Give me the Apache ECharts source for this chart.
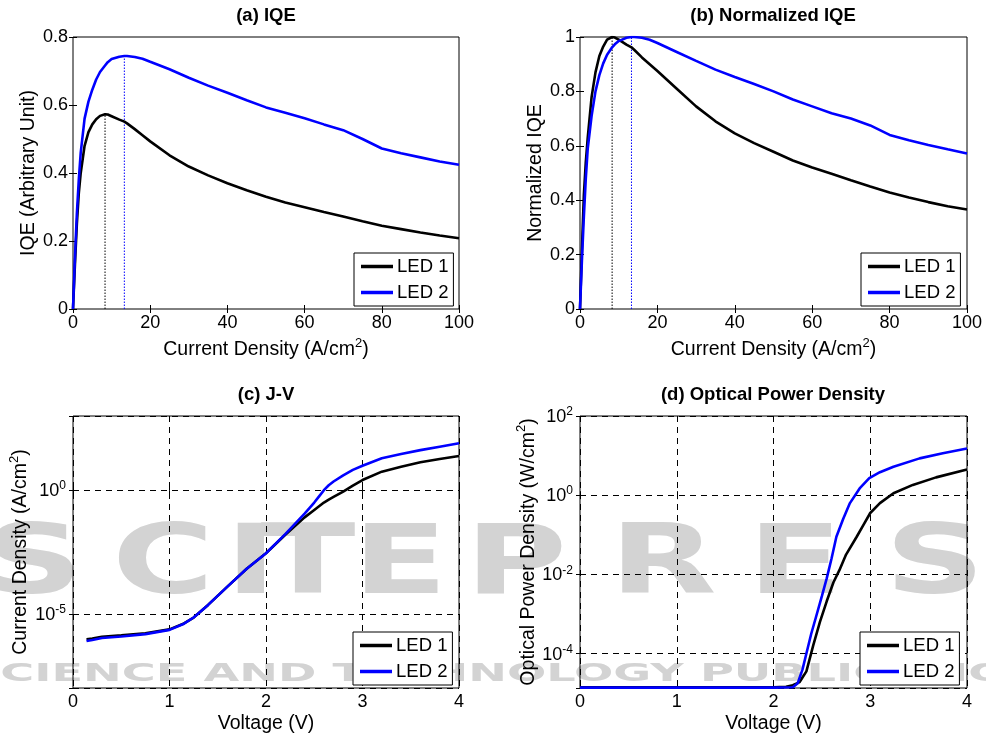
<!DOCTYPE html>
<html>
<head>
<meta charset="utf-8">
<script src="https://cdn.jsdelivr.net/npm/echarts@6/dist/echarts.min.js"></script>
<style>
html, body { margin: 0; padding: 0; background: #fff; }
#chart { width: 986px; height: 740px; }
</style>
</head>
<body>
<div id="chart"></div>
<script>
// (a) IQE vs current density (A/cm^2)
const iqeJ = [0, 0.5, 1, 1.5, 2, 3, 4, 5, 6, 7, 8.3, 9, 10, 12, 13.3, 14, 16, 18, 20, 25, 30, 35, 40, 45, 50, 55, 60, 65, 70, 75, 80, 85, 90, 95, 100];
const iqeLed1 = [0, 0.13, 0.25, 0.34, 0.40, 0.48, 0.52, 0.543, 0.558, 0.568, 0.573, 0.572, 0.567, 0.557, 0.551, 0.546, 0.529, 0.511, 0.493, 0.452, 0.419, 0.393, 0.370, 0.349, 0.330, 0.313, 0.299, 0.285, 0.272, 0.258, 0.245, 0.235, 0.225, 0.216, 0.208];
const iqeLed2 = [0, 0.15, 0.28, 0.38, 0.46, 0.56, 0.61, 0.645, 0.675, 0.697, 0.716, 0.726, 0.735, 0.742, 0.744, 0.744, 0.741, 0.736, 0.727, 0.705, 0.680, 0.657, 0.636, 0.614, 0.593, 0.577, 0.561, 0.543, 0.526, 0.500, 0.472, 0.458, 0.446, 0.434, 0.424];

// (b) normalized IQE
const normLed1 = [0, 0.22, 0.42, 0.54, 0.63, 0.78, 0.87, 0.93, 0.965, 0.99, 1.0, 0.998, 0.99, 0.972, 0.962, 0.953, 0.925, 0.90, 0.875, 0.81, 0.745, 0.69, 0.646, 0.61, 0.578, 0.546, 0.520, 0.497, 0.473, 0.450, 0.428, 0.410, 0.393, 0.378, 0.366];
const normLed2 = [0, 0.18, 0.34, 0.48, 0.59, 0.71, 0.80, 0.86, 0.903, 0.935, 0.962, 0.973, 0.985, 0.997, 1.0, 1.0, 0.997, 0.99, 0.978, 0.945, 0.912, 0.88, 0.853, 0.827, 0.80, 0.77, 0.745, 0.72, 0.70, 0.675, 0.64, 0.62, 0.603, 0.587, 0.572];

// peak markers (dotted lines): current density of the maximum, IQE at the maximum
const peakJ = [8.3, 13.3];
const peakIqe = [0.573, 0.744];
const peakNorm = [1, 1];

// (c) J-V, log10 of current density (A/cm^2)
const jvV = [0.14, 0.2, 0.3, 0.5, 0.75, 1.0, 1.15, 1.25, 1.4, 1.6, 1.8, 2.0, 2.2, 2.4, 2.5, 2.55, 2.6, 2.65, 2.7, 2.8, 2.9, 3.0, 3.2, 3.4, 3.6, 3.8, 4.0];
const jvLed1 = [-6.03, -6.0, -5.93, -5.87, -5.79, -5.63, -5.39, -5.15, -4.64, -3.9, -3.18, -2.55, -1.8, -1.1, -0.8, -0.65, -0.5, -0.38, -0.27, -0.06, 0.18, 0.41, 0.75, 0.95, 1.13, 1.26, 1.38];
const jvLed2 = [-6.1, -6.06, -5.98, -5.92, -5.82, -5.65, -5.4, -5.15, -4.64, -3.9, -3.18, -2.55, -1.78, -0.95, -0.5, -0.25, 0.0, 0.2, 0.35, 0.6, 0.82, 0.99, 1.29, 1.46, 1.62, 1.76, 1.9];

// (d) optical power density, log10 (W/cm^2)
const opV1 = [0, 1, 2, 2.13, 2.2, 2.27, 2.34, 2.41, 2.48, 2.55, 2.62, 2.68, 2.75, 2.86, 2.93, 3.0, 3.1, 3.24, 3.44, 3.68, 4.0];
const opLed1 = [-4.85, -4.85, -4.85, -4.84, -4.80, -4.72, -4.45, -3.8, -3.2, -2.68, -2.2, -1.9, -1.5, -1.05, -0.75, -0.45, -0.2, 0.05, 0.26, 0.45, 0.65];
const opV2 = [0, 1, 2, 2.2, 2.25, 2.3, 2.34, 2.39, 2.44, 2.5, 2.55, 2.6, 2.65, 2.72, 2.79, 2.89, 2.99, 3.1, 3.24, 3.51, 3.75, 4.0];
const opLed2 = [-4.86, -4.86, -4.86, -4.85, -4.75, -4.4, -4.0, -3.5, -3.07, -2.55, -2.1, -1.6, -1.05, -0.6, -0.2, 0.17, 0.43, 0.58, 0.72, 0.93, 1.06, 1.18];

const names = ['LED 1', 'LED 2'];
const colors = ['#000000', '#0000ff'];
const titles = ['(a) IQE', '(b) Normalized IQE', '(c) J-V', '(d) Optical Power Density'];

const FONT = "'Liberation Sans', Arial, Helvetica, sans-serif";
const WM = "'DejaVu Sans', sans-serif";

const grids = [
  { left: 73, top: 37, width: 386, height: 272 },
  { left: 580, top: 37, width: 387, height: 272 },
  { left: 73, top: 416, width: 386, height: 272 },
  { left: 580, top: 416, width: 387, height: 272 }
];

const nameRich = {
  t: { fontSize: 19.5, fontFamily: FONT, color: '#000', lineHeight: 22, verticalAlign: 'bottom' },
  s: { fontSize: 13, fontFamily: FONT, color: '#000', lineHeight: 15, padding: [0, 0, 10, 0], verticalAlign: 'bottom' }
};
const labelRich = {
  b: { fontSize: 18, fontFamily: FONT, color: '#000', lineHeight: 20, verticalAlign: 'bottom' },
  s: { fontSize: 12, fontFamily: FONT, color: '#000', lineHeight: 14, padding: [0, 0, 8, 0], verticalAlign: 'bottom' }
};

const dashed = { show: true, lineStyle: { color: '#000', width: 1, type: [6, 5] } };

function pairs(xs, ys) {
  return xs.map((x, i) => [x, ys[i]]);
}

function powLabel(keep) {
  return function (v) {
    const r = Math.round(v);
    if (Math.abs(v - r) > 1e-6 || keep.indexOf(r) < 0) return '';
    return '{b|10}{s|' + r + '}';
  };
}

function xAxis(g, min, max, interval, name, gap, grid) {
  return [{
    gridIndex: g, type: 'value', min: min, max: max, interval: interval,
    position: 'bottom',
    name: name, nameLocation: 'middle', nameGap: gap,
    nameTextStyle: { rich: nameRich },
    axisLine: { show: false },
    axisTick: { inside: true, length: 4, lineStyle: { color: '#000' } },
    axisLabel: { fontSize: 18, fontFamily: FONT, color: '#000', margin: 5 },
    splitLine: grid ? dashed : { show: false }
  }, {
    gridIndex: g, type: 'value', min: min, max: max, interval: interval,
    position: 'top',
    axisLine: { show: false },
    axisTick: { inside: true, length: 4, lineStyle: { color: '#000' } },
    axisLabel: { show: false },
    splitLine: { show: false }
  }];
}

function yAxis(g, opts, name, gap, fmt) {
  const base = Object.assign({ gridIndex: g, type: 'value' }, opts);
  return [Object.assign({}, base, {
    position: 'left',
    name: name, nameLocation: 'middle', nameGap: gap,
    nameTextStyle: { rich: nameRich },
    axisLine: { show: false },
    axisTick: { inside: true, length: 4, lineStyle: { color: '#000' } },
    axisLabel: fmt
      ? { formatter: fmt, rich: labelRich, margin: 7 }
      : { fontSize: 18, fontFamily: FONT, color: '#000', margin: 5 },
    splitLine: fmt ? dashed : { show: false }
  }), Object.assign({}, base, {
    position: 'right',
    axisLine: { show: false },
    axisTick: { inside: true, length: 4, lineStyle: { color: '#000' } },
    axisLabel: { show: false },
    splitLine: { show: false }
  })];
}

const xs = [].concat(
  xAxis(0, 0, 100, 20, '{t|Current Density (A/cm}{s|2}{t|)}', 29, false),
  xAxis(1, 0, 100, 20, '{t|Current Density (A/cm}{s|2}{t|)}', 29, false),
  xAxis(2, 0, 4, 1, '{t|Voltage (V)}', 24, true),
  xAxis(3, 0, 4, 1, '{t|Voltage (V)}', 24, true)
);
const ys = [].concat(
  yAxis(0, { min: 0, max: 0.8, interval: 0.2 }, '{t|IQE (Arbitrary Unit)}', 34),
  yAxis(1, { min: 0, max: 1, interval: 0.2 }, '{t|Normalized IQE}', 34),
  yAxis(2, { min: -8, max: 3, minInterval: 5, maxInterval: 5 }, '{t|Current Density (A/cm}{s|2}{t|)}', 42, powLabel([0, -5])),
  yAxis(3, { min: -4.87, max: 2, minInterval: 2, maxInterval: 2 }, '{t|Optical Power Density (W/cm}{s|2}{t|)}', 39, powLabel([2, 0, -2, -4]))
);

// axis index of panel p: bottom/left = 2p, top/right = 2p+1
function curve(p, k, data) {
  return {
    type: 'line', name: names[k], xAxisIndex: 2 * p, yAxisIndex: 2 * p,
    data: data, symbol: 'none', showSymbol: false,
    lineStyle: { color: colors[k], width: 2.6 }, itemStyle: { color: colors[k] },
    z: 3 + k, silent: true
  };
}
function peakLine(p, k, top) {
  return {
    type: 'line', xAxisIndex: 2 * p, yAxisIndex: 2 * p,
    data: [[peakJ[k], 0], [peakJ[k], top[k]]], symbol: 'none',
    lineStyle: { color: colors[k], width: 1, type: [1.5, 1.5] },
    z: 2, silent: true
  };
}

const series = [
  peakLine(0, 0, peakIqe), peakLine(0, 1, peakIqe),
  curve(0, 0, pairs(iqeJ, iqeLed1)), curve(0, 1, pairs(iqeJ, iqeLed2)),
  peakLine(1, 0, peakNorm), peakLine(1, 1, peakNorm),
  curve(1, 0, pairs(iqeJ, normLed1)), curve(1, 1, pairs(iqeJ, normLed2)),
  curve(2, 0, pairs(jvV, jvLed1)), curve(2, 1, pairs(jvV, jvLed2)),
  curve(3, 0, pairs(opV1, opLed1)), curve(3, 1, pairs(opV2, opLed2))
];

const legendPos = [[354, 253], [861, 253], [353, 632], [860, 632]];
const legends = legendPos.map(p => ({
  data: names, left: p[0], top: p[1], orient: 'vertical',
  icon: 'rect', itemWidth: 32, itemHeight: 3.5, itemGap: 7,
  padding: [4, 5, 4, 7], borderColor: '#000', borderWidth: 1, borderRadius: 0,
  backgroundColor: '#fff', selectedMode: false,
  textStyle: { fontSize: 18.5, fontFamily: FONT, color: '#000', padding: [0, 0, 0, -1] }
}));

const titleX = [266, 773, 266, 773];
const titleY = [6, 6, 385, 385];
const titleList = titles.map((t, i) => ({
  text: t, left: titleX[i], top: titleY[i], textAlign: 'center', padding: 0,
  textStyle: { fontSize: 18.5, fontWeight: 'bold', fontFamily: FONT, color: '#000' }
}));

// publisher watermark behind the plots
const wmBig = [['S', 33], ['C', 163], ['I', 251], ['T', 308], ['E', 400], ['P', 516], ['R', 663], ['E', 795], ['S', 935]];
const wmElems = wmBig.map(w => ({
  type: 'text', x: w[1], y: 568, scaleX: 1.45, z: -10, silent: true,
  style: { text: w[0], fill: '#d3d3d3', font: 'bold 96px ' + WM, align: 'center', verticalAlign: 'middle' }
}));
wmElems.push({
  type: 'text', x: -33, y: 674, scaleX: 1.85, z: -10, silent: true,
  style: { text: 'SCIENCE AND TECHNOLOGY PUBLICATIONS', fill: '#d3d3d3', font: 'bold 25px ' + WM, align: 'left', verticalAlign: 'middle' }
});

const chart = echarts.init(document.getElementById('chart'), null, { renderer: 'canvas' });
chart.setOption({
  animation: false,
  backgroundColor: '#fff',
  textStyle: { fontFamily: FONT, color: '#000' },
  title: titleList,
  legend: legends,
  graphic: { elements: wmElems },
  grid: grids.map(g => Object.assign({ show: true, borderColor: '#000', borderWidth: 1, backgroundColor: 'transparent', containLabel: false }, g)),
  xAxis: xs,
  yAxis: ys,
  series: series
});
</script>
</body>
</html>
